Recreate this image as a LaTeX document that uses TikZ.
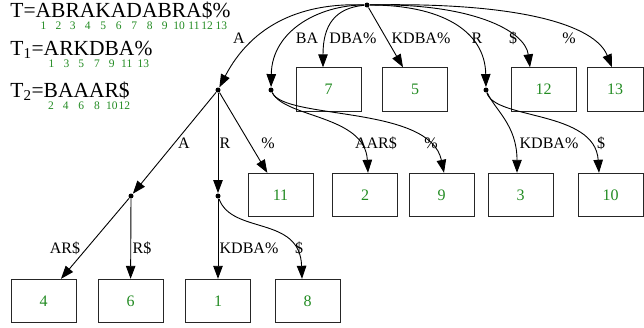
\documentclass[tikz,border=0pt]{standalone}
\usepackage{fontspec}
\setmainfont{Liberation Serif}
\usetikzlibrary{arrows.meta}

\definecolor{numgreen}{RGB}{34,139,34}
% letter with its position written below it
\newcommand{\ix}[2]{\setbox0\hbox{#1}\rlap{\raisebox{-12pt}[0pt][0pt]{\hbox to\wd0{\hss\fontsize{11.5}{13}\selectfont\color{numgreen}#2\hss}}}\box0}

\begin{document}
\begin{tikzpicture}[x=1pt,y=-1pt,->,>={Triangle[length=13pt,width=9.5pt]},
  line width=0.9pt]
  \tikzstyle{every node}=[font=\fontsize{16}{19}\selectfont]
  \tikzstyle{dot}=[circle,fill,draw=none,inner sep=0pt,minimum size=5pt]
  \tikzstyle{leaf}=[draw=black!85,rectangle,minimum width=65pt,minimum height=43.5pt,
    inner sep=0pt,text=numgreen]
  \tikzstyle{word}=[anchor=base west,inner sep=0pt,font=\fontsize{21.5}{25}\selectfont]
  \useasboundingbox (0,0) rectangle (644,327);

  \node[word] (t)  at (10,17) {T=\ix{A}{1}\ix{B}{2}\ix{R}{3}\ix{A}{4}\ix{K}{5}\ix{A}{6}\ix{D}{7}\ix{A}{8}\ix{B}{9}\ix{R}{10}\ix{A}{11}\ix{\$}{12}\ix{\%}{13}};
  \node[word] (t1) at (10,55) {T\textsubscript{1}=\ix{A}{1}\ix{R}{3}\ix{K}{5}\ix{D}{7}\ix{B}{9}\ix{A}{11}\ix{\%}{13}};
  \node[word] (t2) at (10,97) {T\textsubscript{2}=\ix{B}{2}\ix{A}{4}\ix{A}{6}\ix{A}{8}\ix{R}{10}\ix{\$}{12}};

  % inner nodes of the tree
  \node[dot] (r)  at (367,5)   {};
  \node[dot] (a)  at (218,90)  {};
  \node[dot] (ba) at (271,90)  {};
  \node[dot] (rr) at (486,90)  {};
  \node[dot] (aa) at (131,196) {};
  \node[dot] (ar) at (218,196) {};

  % leaves
  \node[leaf] (b7)  at (328.5,89.5) {7};
  \node[leaf] (b5)  at (415,89.5)   {5};
  \node[leaf] (b12) at (543.5,89.5) {12};
  \node[leaf,minimum width=56pt] (b13) at (615,89.5) {13};
  \node[leaf] (b11) at (280.5,195)  {11};
  \node[leaf] (b2)  at (365,195)    {2};
  \node[leaf] (b9)  at (441.5,195)  {9};
  \node[leaf] (b3)  at (520.5,195)  {3};
  \node[leaf] (b10) at (610.5,195)  {10};
  \node[leaf] (b4)  at (43.5,301)   {4};
  \node[leaf] (b6)  at (130.5,301)  {6};
  \node[leaf] (b1)  at (218,301)    {1};
  \node[leaf] (b8)  at (307.5,301)  {8};

  % edges from the root
  \draw (r) .. controls (285,2) and (245,38) .. (a) node at (239,38) {A};
  \draw (r) .. controls (320,5) and (272,30) .. (ba) node at (307,38) {BA};
  \draw (r) .. controls (335,8) and (323,25) .. ([xshift=-5.5pt]b7.north) node at (353,38) {DBA\%};
  \draw (r) -- ([xshift=-12pt]b5.north) node at (421,38) {KDBA\%};
  \draw (r) .. controls (440,5) and (485,30) .. (rr) node at (477,38) {R};
  \draw (r) .. controls (470,3) and (525,30) .. ([xshift=-13.5pt]b12.north) node at (513,38) {\$};
  \draw (r) .. controls (520,2) and (595,25) .. ([xshift=-3pt]b13.north) node at (569,38) {\%};

  % second level
  \draw (a) -- (aa) node at (184,143) {A};
  \draw (a) -- (ar) node at (225,143) {R};
  \draw (a) -- (b11) node at (268,143) {\%};
  \draw (ba) .. controls (285,118) and (365,115) .. ([xshift=3pt]b2.north) node at (376,143) {AAR\$};
  \draw (ba) .. controls (285,120) and (430,105) .. ([xshift=2.5pt]b9.north) node at (431,143) {\%};
  \draw (rr) .. controls (495,110) and (517,125) .. ([xshift=-3.5pt]b3.north) node at (549,143) {KDBA\%};
  \draw (rr) .. controls (495,120) and (595,110) .. ([xshift=-11.5pt]b10.north) node at (601,143) {\$};

  % third level
  \draw (aa) -- ([xshift=17.5pt]b4.north) node at (65,248) {AR\$};
  \draw (aa) -- (b6) node at (142,248) {R\$};
  \draw (ar) -- (b1) node at (249,248) {KDBA\%};
  \draw (ar) .. controls (232,235) and (300,215) .. ([xshift=-5.5pt]b8.north) node at (299,248) {\$};
\end{tikzpicture}
\end{document}
